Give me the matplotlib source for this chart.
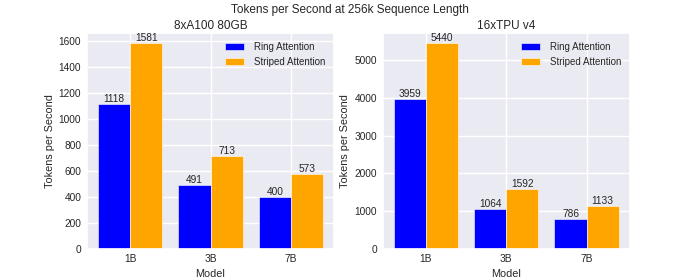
import numpy as np
import matplotlib
matplotlib.use("Agg")
import matplotlib.pyplot as plt
import seaborn as sns

# Data
models = ["1B", "3B", "7B"]
a100_ring = [1118, 491, 400]
a100_striped = [1581, 713, 573]
tpu_ring = [3959, 1064, 786]
tpu_striped = [5440, 1592, 1133]

sns.set_theme(style="darkgrid")
plt.rcParams['font.family'] = ['Liberation Sans', 'DejaVu Sans']

fig, axes = plt.subplots(1, 2, figsize=(7, 2.8), dpi=100)
fig.subplots_adjust(left=0.124, right=0.9, bottom=0.111, top=0.882, wspace=0.195)

x = np.arange(len(models))
width = 0.4

panels = [
    (axes[0], "8xA100 80GB", a100_ring, a100_striped),
    (axes[1], "16xTPU v4", tpu_ring, tpu_striped),
]

for ax, title, ring, striped in panels:
    b1 = ax.bar(x - width / 2, ring, width, color="blue", label="Ring Attention",
                edgecolor="white", linewidth=0.4)
    b2 = ax.bar(x + width / 2, striped, width, color="orange", label="Striped Attention",
                edgecolor="white", linewidth=0.4)
    ax.bar_label(b1, fontsize=7.3, padding=0)
    ax.bar_label(b2, fontsize=7.3, padding=0)
    ax.set_title(title, fontsize=8.5, pad=3)
    ax.set_xticks(x)
    ax.set_xticklabels(models)
    ax.set_xlabel("Model", fontsize=7.8, labelpad=3)
    ax.set_ylabel("Tokens per Second", fontsize=7.8, labelpad=3)
    ax.tick_params(labelsize=7.3, length=0, pad=4)
    ax.legend(loc="upper right", fontsize=7.0, frameon=False, handlelength=2.0,
              handletextpad=1.0)

fig.suptitle("Tokens per Second at 256k Sequence Length", fontsize=8.5, y=0.985)

fig.savefig("out.png", dpi=100)
